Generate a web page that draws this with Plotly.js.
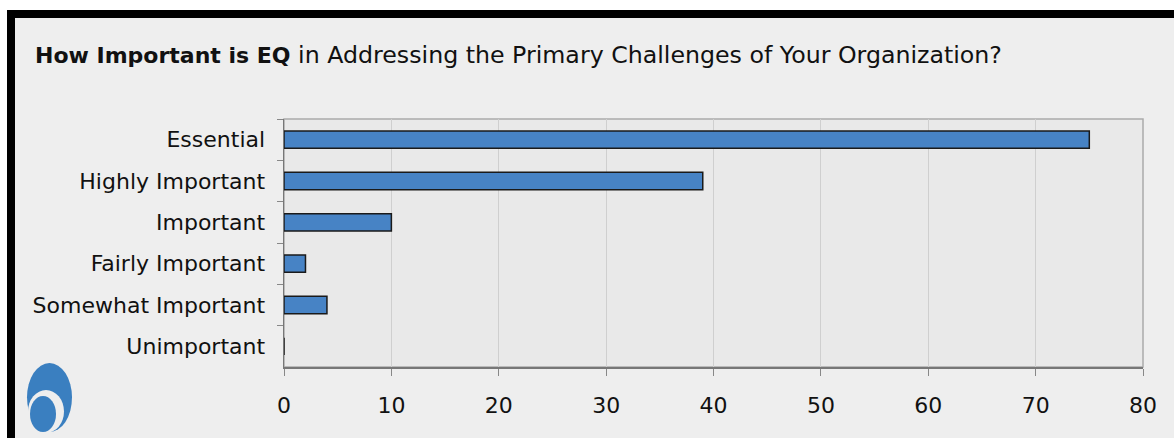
<!DOCTYPE html>
<html>
<head>
<meta charset="utf-8">
<script src="https://cdn.plot.ly/plotly-3.0.1.min.js"></script>
<style>
  html, body { margin: 0; padding: 0; background: #ffffff; width: 1174px; height: 438px; overflow: hidden; }
  #frame { position: absolute; left: 7px; top: 10px; width: 1167px; height: 428px; background: #000; }
  #chart { position: absolute; left: 15px; top: 18px; width: 1159px; height: 420px; }
</style>
</head>
<body>
<div id="frame"></div>
<div id="chart"></div>
<script>
const categories = ["Essential", "Highly Important", "Important", "Fairly Important", "Somewhat Important", "Unimportant"];
const values = [75, 39, 10, 2, 4, 0];
const xTicks = [0, 10, 20, 30, 40, 50, 60, 70, 80];
const titleBold = "How Important is EQ";
const titleRest = " in Addressing the Primary Challenges of Your Organization?";

const W = 1159, H = 420;
const FONT = "DejaVu Sans, Lucida Grande, sans-serif";

const trace = {
  type: "bar",
  orientation: "h",
  y: categories,
  x: values,
  marker: { color: "#4783c5", line: { color: "#1a1a1a", width: 1.5 } },
  hoverinfo: "x+y"
};

const L = 269, R = 31, T = 101, B = 71;
const pw = W - L - R, ph = H - T - B;
function px(x) { return (x - 15 - L) / pw; }
function py(y) { return 1 - (y - 18 - T) / ph; }

const layout = {
  width: W, height: H,
  margin: { l: L, r: R, t: T, b: B },
  paper_bgcolor: "#eeeeee",
  plot_bgcolor: "#e9e9e9",
  font: { family: FONT, color: "#111111", size: 22 },
  title: {
    text: "<span style=\"font-size:22px\"><b>" + titleBold + "</b></span>" + titleRest,
    font: { family: FONT, size: 23.7, color: "#111111" },
    xref: "container", yref: "container",
    x: 20 / W, xanchor: "left",
    y: 1 - 37 / H, yanchor: "middle"
  },
  bargap: 0.58,
  showlegend: false,
  xaxis: {
    range: [0, 80],
    tickvals: xTicks,
    ticktext: xTicks.map(String),
    showgrid: true, gridcolor: "#cfcfcf", gridwidth: 1,
    zeroline: false,
    showline: true, linecolor: "#777777", linewidth: 1.5,
    ticks: "outside", ticklen: 7, tickcolor: "#888888",
    ticklabelstandoff: 11,
    tickfont: { family: FONT, size: 22, color: "#111111" },
    fixedrange: true
  },
  yaxis: {
    categoryorder: "array",
    categoryarray: categories,
    autorange: "reversed",
    showgrid: false,
    zeroline: false,
    showline: true, linecolor: "#777777", linewidth: 1.5,
    ticks: "outside", tickson: "boundaries", ticklen: 6, tickcolor: "#888888",
    ticklabelstandoff: 13,
    tickfont: { family: FONT, size: 22, color: "#111111" },
    fixedrange: true
  },
  shapes: [
    { type: "rect", xref: "paper", yref: "paper", x0: 0, x1: 1, y0: 0, y1: 1,
      line: { color: "#aaaaaa", width: 1.5 }, layer: "below" },
    { type: "circle", xref: "paper", yref: "paper",
      x0: px(27), x1: px(72), y0: py(432), y1: py(363),
      fillcolor: "#3a7fc0", line: { width: 0 } },
    { type: "circle", xref: "paper", yref: "paper",
      x0: px(28), x1: px(64), y0: py(433), y1: py(390),
      fillcolor: "#eeeeee", line: { width: 0 } },
    { type: "circle", xref: "paper", yref: "paper",
      x0: px(30), x1: px(56), y0: py(432), y1: py(396),
      fillcolor: "#3a7fc0", line: { width: 0 } }
  ]
};

Plotly.newPlot("chart", [trace], layout, { displayModeBar: false, staticPlot: true });
</script>
</body>
</html>
